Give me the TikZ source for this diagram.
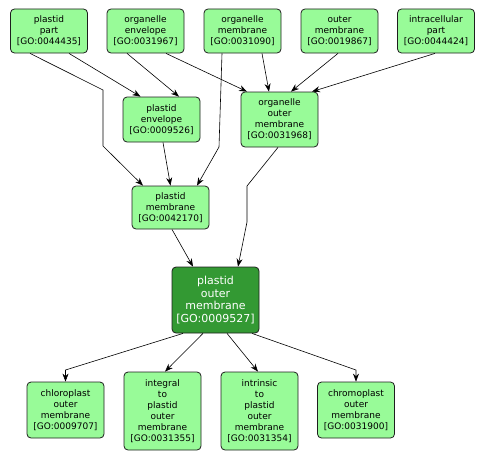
\documentclass[tikz,border=0pt]{standalone}
\usepackage{fontspec}
\setmainfont{DejaVu Sans}
\usetikzlibrary{arrows.meta}

\definecolor{termgreen}{HTML}{98FB98}
\definecolor{focusgreen}{HTML}{339933}
\definecolor{termline}{HTML}{1E1E1E}

\tikzset{
  term/.style={draw=termline, fill=termgreen, rounded corners=4pt, line width=0.8pt,
    align=center, minimum width=77pt, inner xsep=2pt, inner ysep=2pt,
    font=\fontsize{9}{11}\selectfont},
  focus/.style={term, fill=focusgreen, text=white, minimum width=87pt,
    minimum height=66pt, font=\fontsize{11}{12.5}\selectfont},
  isa/.style={-{Stealth[length=8pt,width=6pt]}, line width=0.6pt, draw=black}
}

\begin{document}
\begin{tikzpicture}[x=1pt,y=-1pt]
\useasboundingbox (0,0) rectangle (486,460);

% top row
\node[term,minimum height=44pt] (part)  at (49,31)    {plastid\\part\\{[GO:0044435]}};
\node[term,minimum height=44pt] (env)   at (145.5,31) {organelle\\envelope\\{[GO:0031967]}};
\node[term,minimum height=44pt] (omem)  at (242.5,31) {organelle\\membrane\\{[GO:0031090]}};
\node[term,minimum height=44pt] (outer) at (339.5,31) {outer\\membrane\\{[GO:0019867]}};
\node[term,minimum height=44pt] (intra) at (436,31)   {intracellular\\part\\{[GO:0044424]}};

\node[term,minimum height=45pt] (penv) at (161.5,119.5) {plastid\\envelope\\{[GO:0009526]}};
\node[term,minimum height=55pt] (oom)  at (279.5,119.5) {organelle\\outer\\membrane\\{[GO:0031968]}};
\node[term,minimum height=43pt] (pmem) at (170.5,207.5) {plastid\\membrane\\{[GO:0042170]}};

\node[focus] (pom) at (215.5,300) {plastid\\outer\\membrane\\{[GO:0009527]}};

% bottom row
\node[term,minimum height=56pt] (chloro)    at (65.5,410)  {chloroplast\\outer\\membrane\\{[GO:0009707]}};
\node[term,minimum height=78pt] (integral)  at (162.5,411) {integral\\to\\plastid\\outer\\membrane\\{[GO:0031355]}};
\node[term,minimum height=78pt] (intrinsic) at (259.5,411) {intrinsic\\to\\plastid\\outer\\membrane\\{[GO:0031354]}};
\node[term,minimum height=56pt] (chromo)    at (356,410)   {chromoplast\\outer\\membrane\\{[GO:0031900]}};

% bends
\coordinate (b1) at (103,90);
\coordinate (b2) at (103,146);
\coordinate (b3) at (219,147);
\coordinate (b4) at (247,186);
\coordinate (b5) at (247,222);
\coordinate (b6) at (65.5,370);
\coordinate (b7) at (356,370);

\draw[isa] ([xshift=20pt]part.south) -- ([xshift=-21pt]penv.north);
\draw[isa] ([xshift=-19pt]part.south) -- (b1) -- (b2) -- ([xshift=-27.5pt]pmem.north);
\draw[isa] ([xshift=-18.5pt]env.south) -- ([xshift=17.5pt]penv.north);
\draw[isa] ([xshift=20.5pt]env.south) -- ([xshift=-32.5pt]oom.north);
\draw[isa] ([xshift=-20.5pt]omem.south) -- (b3) -- ([xshift=26.5pt]pmem.north);
\draw[isa] ([xshift=19.5pt]omem.south) -- ([xshift=-10.5pt]oom.north);
\draw[isa] ([xshift=-1.5pt]outer.south) -- ([xshift=11.5pt]oom.north);
\draw[isa] ([xshift=-1pt]intra.south) -- ([xshift=32.5pt]oom.north);
\draw[isa] ([xshift=1.5pt]penv.south) -- (pmem.north);
\draw[isa] ([xshift=-1.5pt]oom.south) -- (b4) -- (b5) -- ([xshift=22.5pt]pom.north);
\draw[isa] ([xshift=1.5pt]pmem.south) -- ([xshift=-22.5pt]pom.north);

\draw[isa] ([xshift=-32.5pt]pom.south) -- (b6) -- (chloro.north);
\draw[isa] ([xshift=-12.5pt]pom.south) -- ([xshift=2.5pt]integral.north);
\draw[isa] ([xshift=11.5pt]pom.south) -- ([xshift=-1.5pt]intrinsic.north);
\draw[isa] ([xshift=36.5pt]pom.south) -- (b7) -- (chromo.north);

\end{tikzpicture}
\end{document}
